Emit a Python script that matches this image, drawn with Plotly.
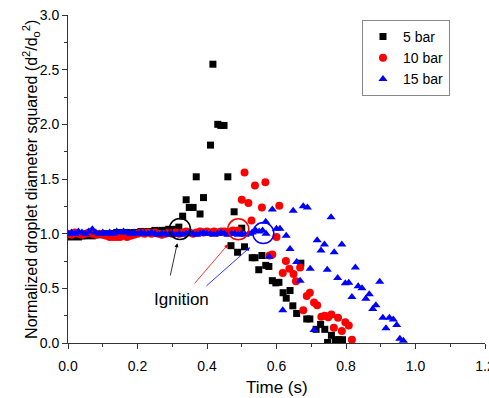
import plotly.graph_objects as go

# ---------------- data ----------------
# 5 bar (black squares)
t5 = [0.00, 0.01, 0.02, 0.03, 0.04, 0.05, 0.06, 0.07, 0.08, 0.09, 0.10, 0.11, 0.12, 0.13, 0.14, 0.15,
      0.16, 0.17, 0.18, 0.19, 0.20, 0.21, 0.22, 0.23, 0.24, 0.25, 0.26, 0.27, 0.28, 0.29, 0.30, 0.31,
      0.319, 0.33, 0.34, 0.349, 0.36, 0.369, 0.38, 0.39, 0.41, 0.417, 0.431, 0.44, 0.449, 0.46,
      0.469, 0.478, 0.488, 0.50, 0.508, 0.53, 0.538, 0.549, 0.558, 0.569, 0.578, 0.588, 0.598,
      0.607, 0.619, 0.628, 0.639, 0.647, 0.658, 0.67, 0.687, 0.696, 0.714, 0.727, 0.739, 0.747,
      0.758, 0.769, 0.78, 0.79]
v5 = [0.98, 0.97, 0.98, 0.97, 0.98, 0.98, 0.99, 0.98, 0.99, 0.99, 1.00, 0.99, 1.00, 1.00, 1.01, 1.00,
      1.01, 1.01, 1.00, 1.01, 1.01, 1.02, 1.01, 1.02, 1.02, 1.03, 1.02, 1.03, 1.03, 1.04, 1.03, 1.04,
      1.06, 1.16, 1.31, 1.24, 1.24, 1.52, 1.18, 1.33, 1.81, 2.55, 2.00, 1.99, 1.99, 1.52,
      0.89, 1.20, 0.83, 1.05, 0.88, 0.78, 0.78, 0.67, 0.80, 0.71, 0.70, 0.57, 0.55,
      0.555, 0.46, 0.41, 0.48, 0.34, 0.27, 0.73, 0.22, 0.22, 0.125, 0.17, 0.125, 0.005,
      0.07, 0.03, 0.03, 0.03]

# 10 bar (red circles)
t10 = [0.00, 0.01, 0.02, 0.03, 0.04, 0.05, 0.06, 0.07, 0.08, 0.09, 0.10, 0.11, 0.12, 0.13, 0.14, 0.15,
       0.16, 0.17, 0.18, 0.19, 0.20, 0.21, 0.22, 0.23, 0.24, 0.25, 0.26, 0.27, 0.28, 0.29, 0.30, 0.31,
       0.32, 0.33, 0.34, 0.35, 0.36, 0.37, 0.38, 0.39, 0.40, 0.41, 0.42, 0.43, 0.44, 0.45, 0.46,
       0.47, 0.475, 0.48, 0.49,
       0.50, 0.508, 0.519, 0.528, 0.538, 0.558, 0.568, 0.58, 0.588, 0.60, 0.608, 0.618, 0.627,
       0.637, 0.649, 0.656, 0.668, 0.677, 0.687, 0.696, 0.708, 0.717, 0.729, 0.739, 0.749, 0.758,
       0.765, 0.777, 0.788, 0.798, 0.808, 0.817]
v10 = [1.00, 0.99, 1.01, 1.00, 0.99, 1.00, 1.01, 1.00, 0.99, 1.00, 0.99, 0.98, 0.97, 0.97, 0.97, 0.97,
       0.98, 0.97, 0.98, 0.99, 1.00, 1.01, 1.00, 1.01, 1.00, 1.01, 1.00, 0.99, 1.00, 1.01, 1.00, 1.01,
       1.00, 1.01, 1.02, 1.01, 1.00, 1.01, 1.02, 1.01, 1.02, 1.01, 1.02, 1.01, 1.02, 1.02, 1.01,
       1.02, 1.03, 1.02, 1.03,
       1.31, 1.56, 1.28, 1.12, 1.44, 1.24, 1.47, 0.80, 0.81, 0.97, 1.256, 0.64, 0.75,
       0.68, 0.63, 0.565, 0.69, 0.30, 0.43, 0.46, 0.37, 0.345, 0.24, 0.25, 0.235, 0.26,
       0.14, 0.23, 0.11, 0.19, 0.16, 0.03]

# 15 bar (blue triangles)
t15 = [0.00, 0.01, 0.02, 0.03, 0.04, 0.05, 0.06, 0.07, 0.08, 0.09, 0.10, 0.11, 0.12, 0.13, 0.14, 0.15,
       0.16, 0.17, 0.18, 0.19, 0.20, 0.21, 0.22, 0.23, 0.24, 0.25, 0.26, 0.27, 0.28, 0.29, 0.30, 0.31,
       0.32, 0.33, 0.34, 0.35, 0.36, 0.37, 0.38, 0.39, 0.40, 0.41, 0.42, 0.43, 0.44, 0.45, 0.46,
       0.47, 0.48, 0.49, 0.50, 0.51, 0.52, 0.53, 0.54, 0.55, 0.56, 0.57,
       0.569, 0.579, 0.588, 0.60, 0.61, 0.618, 0.628, 0.639, 0.648, 0.658, 0.668, 0.677, 0.689,
       0.697, 0.708, 0.717, 0.728, 0.738, 0.746, 0.757, 0.766, 0.776, 0.788, 0.798, 0.808,
       0.817, 0.827, 0.835, 0.846, 0.857, 0.867, 0.877, 0.886, 0.897, 0.906, 0.915, 0.925,
       0.936, 0.946, 0.955, 0.965]
v15 = [1.00, 1.01, 1.00, 1.02, 1.01, 1.00, 1.02, 1.04, 1.01, 1.00, 1.01, 1.00, 1.01, 1.00, 1.02, 1.01,
       1.02, 1.01, 1.00, 1.01, 1.00, 1.01, 1.00, 1.00, 1.01, 1.00, 0.99, 1.00, 1.00, 0.99, 1.00, 0.99,
       1.00, 0.99, 1.00, 1.01, 1.00, 0.99, 1.00, 1.01, 1.00, 1.00, 0.99, 1.00, 1.01, 1.00, 0.99,
       1.00, 1.00, 0.99, 1.00, 0.99, 1.00, 1.01, 1.03, 1.02, 1.03, 1.00,
       1.11, 0.79, 1.22, 1.045, 1.045, 0.30, 0.98, 0.86, 1.21, 0.74, 0.57, 1.25, 1.24,
       0.68, 0.12, 0.94, 0.845, 0.90, 0.67, 1.15, 0.83, 0.595, 0.90, 0.546, 0.55,
       0.42, 0.69, 0.52, 0.50, 0.405, 0.445, 0.31, 0.345, 0.56, 0.23, 0.135, 0.23,
       0.215, 0.165, 0.04, 0.02]

series_names = ["5 bar", "10 bar", "15 bar"]
series_colors = ["#000000", "#FF0000", "#0000FF"]
series_symbols = ["square", "circle", "triangle-up"]
series_sizes = [7, 8, 8]

x_ticks = [0.0, 0.2, 0.4, 0.6, 0.8, 1.0, 1.2]
y_ticks = [0.0, 0.5, 1.0, 1.5, 2.0, 2.5, 3.0]

# ignition circles (time, value, color) and arrows
ign_t = [0.322, 0.49, 0.562]
ign_v = [1.043, 1.04, 1.005]
ign_colors = ["#000000", "#FF0000", "#0000FF"]
arrow_tail_t = [0.2935, 0.3606, 0.394]
arrow_tail_v = [0.604, 0.531, 0.51]
arrow_head_t = [0.3145, 0.461, 0.524]
arrow_head_v = [0.912, 0.903, 0.876]

FONT = "Arial, 'Liberation Sans', sans-serif"

fig = go.Figure()
for t, v, n, c, s, sz in zip([t5, t10, t15], [v5, v10, v15], series_names,
                             series_colors, series_symbols, series_sizes):
    fig.add_trace(go.Scatter(x=t, y=v, mode="markers", name=n,
                             marker=dict(color=c, symbol=s, size=sz, line=dict(width=0))))

for tc, vc, col in zip(ign_t, ign_v, ign_colors):
    fig.add_shape(type="circle", xref="x", yref="y", xsizemode="pixel", ysizemode="pixel",
                  xanchor=tc, yanchor=vc, x0=-10.5, x1=10.5, y0=-10.5, y1=10.5,
                  line=dict(color=col, width=1.5))

for ht, hv, tt, tv, col in zip(arrow_head_t, arrow_head_v, arrow_tail_t, arrow_tail_v, ign_colors):
    fig.add_annotation(x=ht, y=hv, ax=tt, ay=tv, xref="x", yref="y", axref="x", ayref="y",
                       text="", showarrow=True, arrowhead=2, arrowsize=1, arrowwidth=0.8,
                       arrowcolor=col)

fig.add_annotation(x=0.326, y=0.40, xref="x", yref="y", text="Ignition", showarrow=False,
                   font=dict(family=FONT, size=17, color="#000000"))

# axis titles placed as text annotations
fig.add_annotation(x=-0.089, y=0.5, xref="paper", yref="paper", xanchor="center", yanchor="middle",
                   text="Normalized droplet diameter squared (d<sup>2</sup>/d<sub>o</sub><sup>2</sup>)",
                   textangle=-90, showarrow=False, font=dict(family=FONT, size=16, color="#000000"))
fig.add_annotation(x=0.5, y=-0.137, xref="paper", yref="paper", xanchor="center", yanchor="middle",
                   text="Time (s)", showarrow=False, font=dict(family=FONT, size=17, color="#000000"))

fig.update_layout(
    width=489, height=398,
    margin=dict(l=68, r=4, t=15, b=55),
    paper_bgcolor="white", plot_bgcolor="white",
    font=dict(family=FONT, color="#000000"),
    showlegend=True,
    legend=dict(x=0.705, y=0.985, xanchor="left", yanchor="top",
                bordercolor="#888888", borderwidth=1, bgcolor="white",
                font=dict(family=FONT, size=14), itemsizing="trace",
                tracegroupgap=0),
    xaxis=dict(range=[0, 1.2], tickvals=x_ticks, tickformat=".1f", automargin=False,
               showgrid=False, zeroline=False, showline=True, linecolor="#333333", linewidth=1,
               ticks="outside", ticklen=5, tickcolor="#333333", ticklabeloverflow="allow",
               ticklabelstandoff=5,
               minor=dict(dtick=0.1, ticks="outside", ticklen=3, tickcolor="#333333"),
               tickfont=dict(size=14)),
    yaxis=dict(range=[0, 3.0], tickvals=y_ticks, tickformat=".1f", automargin=False,
               showgrid=False, zeroline=False, showline=True, linecolor="#333333", linewidth=1,
               ticks="outside", ticklen=5, tickcolor="#333333",
               minor=dict(dtick=0.25, ticks="outside", ticklen=3, tickcolor="#333333"),
               tickfont=dict(size=14)),
)

fig.write_html("out.html")
